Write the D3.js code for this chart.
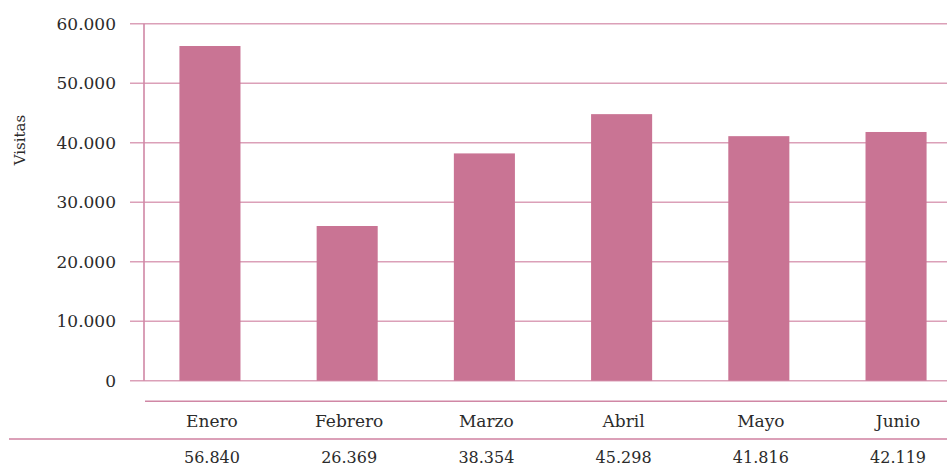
<!DOCTYPE html>
<html>
<head>
<meta charset="utf-8">
<script src="https://cdn.jsdelivr.net/npm/d3@7.9.0/dist/d3.min.js"></script>
<style>
  body { margin: 0; background: #fff; }
  text { font-family: "DejaVu Serif", serif; fill: #2b2b2b; }
</style>
</head>
<body>
<svg id="chart" width="947" height="470"></svg>
<script>
const months = ["Enero", "Febrero", "Marzo", "Abril", "Mayo", "Junio"];
// bar heights as drawn in the picture
const visits = [56250, 26000, 38200, 44800, 41100, 41800];
// values printed in the table row under the chart
const tableLabels = ["56.840", "26.369", "38.354", "45.298", "41.816", "42.119"];
const yTicks = [0, 10000, 20000, 30000, 40000, 50000, 60000];

const BAR = "#c97494";
const GRID = "#dba0b8";

const svg = d3.select("#chart");

const y = d3.scaleLinear().domain([0, 60000]).range([380.7, 23.7]);
const x = d3.scaleBand().domain(months).range([141, 965]).paddingInner(0.555).paddingOuter(0.28);

const fmt = (v) => d3.format(",")(v).replace(/,/g, ".");

// horizontal grid
svg.append("g")
  .selectAll("line")
  .data(yTicks)
  .join("line")
  .attr("x1", 130).attr("x2", 947)
  .attr("y1", (d) => y(d)).attr("y2", (d) => y(d))
  .attr("stroke", GRID).attr("stroke-width", 1.6);

// tick labels
svg.append("g")
  .selectAll("text")
  .data(yTicks)
  .join("text")
  .attr("x", 116)
  .attr("y", (d) => y(d))
  .attr("dy", "0.36em")
  .attr("text-anchor", "end")
  .style("font-size", "17px")
  .text((d) => fmt(d));

// bars
svg.append("g")
  .selectAll("rect")
  .data(visits)
  .join("rect")
  .attr("x", (d, i) => x(months[i]))
  .attr("width", x.bandwidth())
  .attr("y", (d) => y(d))
  .attr("height", (d) => y(0) - y(d))
  .attr("fill", BAR);

// y axis line
svg.append("line")
  .attr("x1", 144).attr("x2", 144)
  .attr("y1", y(60000)).attr("y2", y(0))
  .attr("stroke", "#d087a5").attr("stroke-width", 1.6);

// table lines
svg.append("line")
  .attr("x1", 145).attr("x2", 947)
  .attr("y1", 401.3).attr("y2", 401.3)
  .attr("stroke", "#d087a5").attr("stroke-width", 1.6);
svg.append("line")
  .attr("x1", 9).attr("x2", 947)
  .attr("y1", 439).attr("y2", 439)
  .attr("stroke", GRID).attr("stroke-width", 1.8);

// category row
svg.append("g")
  .selectAll("text")
  .data(months)
  .join("text")
  .attr("x", (d) => x(d) + x.bandwidth() / 2 + 2)
  .attr("y", 427)
  .attr("text-anchor", "middle")
  .style("font-size", "17px")
  .text((d) => d);

// value row
svg.append("g")
  .selectAll("text")
  .data(tableLabels)
  .join("text")
  .attr("x", (d, i) => x(months[i]) + x.bandwidth() / 2 + 2)
  .attr("y", 463)
  .attr("text-anchor", "middle")
  .style("font-size", "16px")
  .text((d) => d);

// axis title
svg.append("text")
  .attr("transform", "translate(25,140) rotate(-90)")
  .attr("text-anchor", "middle")
  .style("font-size", "15px")
  .text("Visitas");
</script>
</body>
</html>
